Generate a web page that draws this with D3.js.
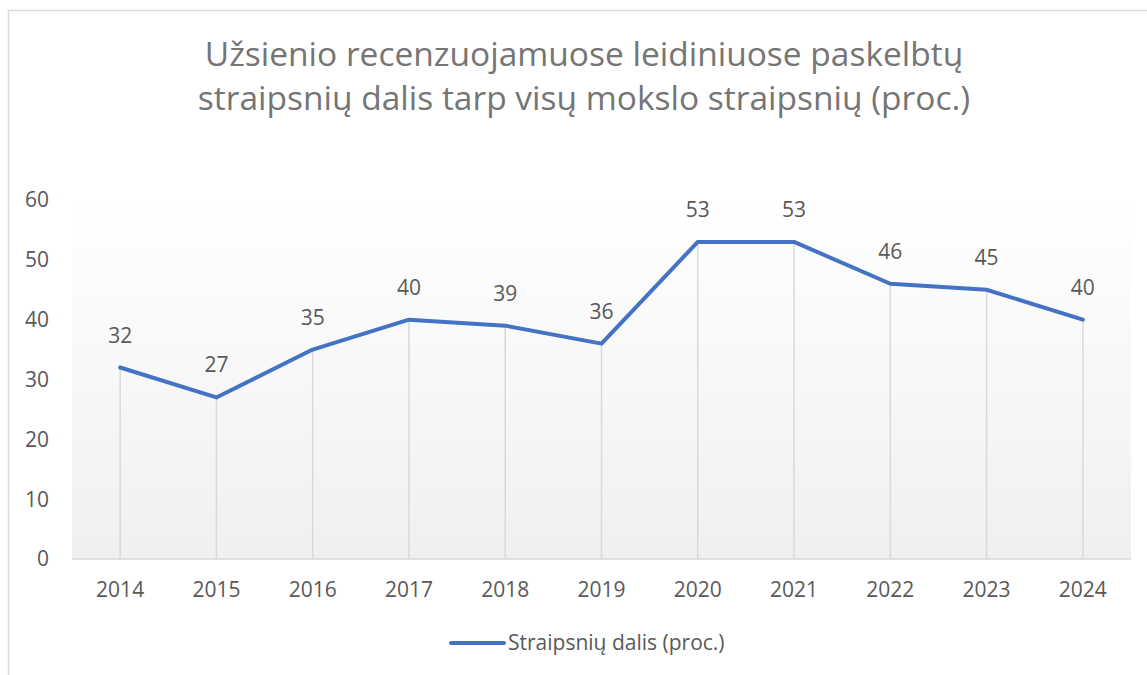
<!DOCTYPE html>
<html>
<head>
<meta charset="utf-8">
<script src="https://cdn.jsdelivr.net/npm/d3@7"></script>
<style>
  body { margin: 0; background: #fff; }
  svg { font-family: "Open Sans", Lato, sans-serif; }
</style>
</head>
<body>
<div id="chart"></div>
<script>
// chart data
const years = ['2014', '2015', '2016', '2017', '2018', '2019', '2020', '2021', '2022', '2023', '2024'];
const shares = [32, 27, 35, 40, 39, 36, 53, 53, 46, 45, 40];
const yTicks = [0, 10, 20, 30, 40, 50, 60];
const titleLines = ['Užsienio recenzuojamuose leidiniuose paskelbtų', 'straipsnių dalis tarp visų mokslo straipsnių (proc.)'];
const seriesName = 'Straipsnių dalis (proc.)';

const width = 1147, height = 675;
const margin = { top: 200, right: 16, bottom: 116, left: 72 };

const svg = d3.select('#chart').append('svg')
  .attr('width', width)
  .attr('height', height);

// gradient for the plot area
const defs = svg.append('defs');
const grad = defs.append('linearGradient')
  .attr('id', 'bg')
  .attr('x1', 0).attr('y1', 0).attr('x2', 0).attr('y2', 1);
grad.append('stop').attr('offset', '0%').attr('stop-color', '#ffffff');
grad.append('stop').attr('offset', '100%').attr('stop-color', '#f0f0f0');

// chart border (cropped at right and bottom)
svg.append('rect')
  .attr('x', 8.5).attr('y', 10.5)
  .attr('width', 1160).attr('height', 700)
  .attr('fill', 'none')
  .attr('stroke', '#d9d9d9')
  .attr('stroke-width', 1.5);

const x = d3.scaleBand()
  .domain(years)
  .range([margin.left, width - margin.right]);

const y = d3.scaleLinear()
  .domain([0, 60])
  .range([height - margin.bottom, margin.top]);

// plot background
svg.append('rect')
  .attr('x', x.range()[0])
  .attr('y', y(60))
  .attr('width', x.range()[1] - x.range()[0])
  .attr('height', y(0) - y(60))
  .attr('fill', 'url(#bg)');

// title
svg.append('g')
  .selectAll('text')
  .data(titleLines)
  .join('text')
  .attr('x', 584)
  .attr('y', (d, i) => 66 + i * 44)
  .attr('text-anchor', 'middle')
  .attr('fill', '#757575')
  .style('font-size', '33.5px')
  .text(d => d);

// drop lines
svg.append('g')
  .selectAll('line')
  .data(shares)
  .join('line')
  .attr('x1', (d, i) => x(years[i]) + x.bandwidth() / 2)
  .attr('x2', (d, i) => x(years[i]) + x.bandwidth() / 2)
  .attr('y1', d => y(d))
  .attr('y2', y(0))
  .attr('stroke', '#d9d9d9')
  .attr('stroke-width', 1.5);

// x axis line
svg.append('line')
  .attr('x1', x.range()[0]).attr('x2', x.range()[1])
  .attr('y1', y(0)).attr('y2', y(0))
  .attr('stroke', '#d9d9d9')
  .attr('stroke-width', 1.5);

// y tick labels
svg.append('g')
  .selectAll('text')
  .data(yTicks)
  .join('text')
  .attr('x', 49)
  .attr('y', d => y(d))
  .attr('dy', '0.35em')
  .attr('text-anchor', 'end')
  .attr('fill', '#595959')
  .style('font-size', '21px')
  .text(d => d);

// x tick labels
svg.append('g')
  .selectAll('text')
  .data(years)
  .join('text')
  .attr('x', d => x(d) + x.bandwidth() / 2)
  .attr('y', y(0) + 38)
  .attr('text-anchor', 'middle')
  .attr('fill', '#595959')
  .style('font-size', '21px')
  .text(d => d);

// the line
const line = d3.line()
  .x((d, i) => x(years[i]) + x.bandwidth() / 2)
  .y(d => y(d));

svg.append('path')
  .datum(shares)
  .attr('d', line)
  .attr('fill', 'none')
  .attr('stroke', '#4472c4')
  .attr('stroke-width', 4)
  .attr('stroke-linejoin', 'round')
  .attr('stroke-linecap', 'round');

// data labels
svg.append('g')
  .selectAll('text')
  .data(shares)
  .join('text')
  .attr('x', (d, i) => x(years[i]) + x.bandwidth() / 2)
  .attr('y', d => y(d) - 25)
  .attr('text-anchor', 'middle')
  .attr('fill', '#595959')
  .style('font-size', '21px')
  .text(d => d);

// legend
const legend = svg.append('g').attr('transform', 'translate(451,643)');
legend.append('line')
  .attr('x1', 0).attr('x2', 53)
  .attr('stroke', '#4472c4')
  .attr('stroke-width', 4)
  .attr('stroke-linecap', 'round');
legend.append('text')
  .attr('x', 57)
  .attr('dy', '0.35em')
  .attr('fill', '#595959')
  .style('font-size', '21px')
  .text(seriesName);
</script>
</body>
</html>
